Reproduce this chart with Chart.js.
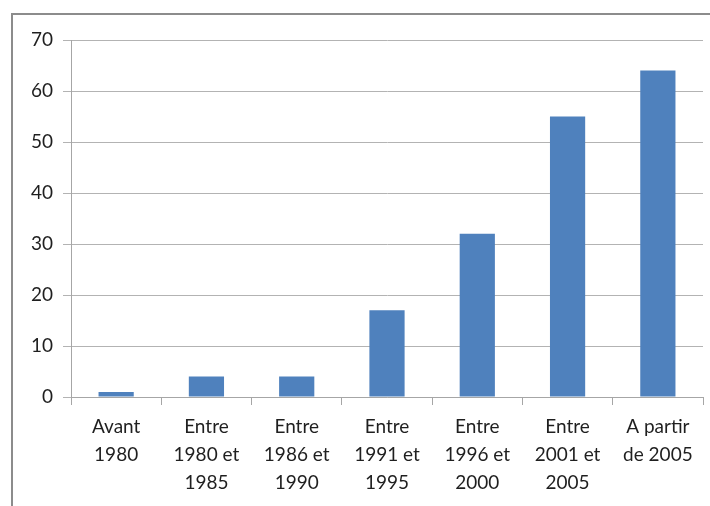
<!DOCTYPE html>
<html>
<head>
<meta charset="utf-8">
<script src="https://cdn.jsdelivr.net/npm/chart.js@4"></script>
<style>
  body { margin: 0; background: #fff; overflow: hidden; }
  #frame { position: absolute; left: 11px; top: 13px; width: 720px; height: 520px; border: 2px solid #8c8c8c; }
  #wrap { position: absolute; left: 0; top: 0; width: 710px; height: 506px; }
</style>
</head>
<body>
<div id="frame"></div>
<div id="wrap"><canvas id="myChart" width="710" height="506"></canvas></div>
<script>
// categories (multi-line labels)
var categories = [
    ['Avant', '1980'],
    ['Entre', '1980 et', '1985'],
    ['Entre', '1986 et', '1990'],
    ['Entre', '1991 et', '1995'],
    ['Entre', '1996 et', '2000'],
    ['Entre', '2001 et', '2005'],
    ['A partir', 'de 2005']
];
var valeurs = [1, 4, 4, 17, 32, 55, 64];
var yMin = 0, yMax = 70, yStep = 10;

var ctx = document.getElementById('myChart').getContext('2d');

var data = {
    labels: categories,
    datasets: [{
        data: valeurs,
        backgroundColor: '#4F81BD',
        borderWidth: 0,
        barPercentage: 0.39,
        categoryPercentage: 1
    }]
};

var options = {
    responsive: false,
    animation: false,
    layout: { padding: { left: 0, top: 40, right: 7, bottom: 0 } },
    plugins: { legend: { display: false }, tooltip: { enabled: false } },
    scales: {
        x: {
            grid: { drawOnChartArea: false, drawTicks: true, tickLength: 8, color: '#a6a6a6', offset: true },
            border: { color: '#a6a6a6', width: 1 },
            ticks: { color: '#1f1f1f', font: { family: 'Lato', size: 19, lineHeight: 1.47 }, padding: 8, maxRotation: 0, autoSkip: false },
            afterFit: function (scale) { scale.height = 109; }
        },
        y: {
            min: yMin,
            max: yMax,
            grid: { color: '#b3b3b3', tickLength: 8 },
            border: { color: '#a6a6a6' },
            ticks: { stepSize: yStep, color: '#1f1f1f', font: { family: 'Lato', size: 19 }, padding: 10 },
            afterFit: function (scale) { scale.width = 71; }
        }
    }
};

var myChart = new Chart(ctx, {
    type: 'bar',
    data: data,
    options: options
});
</script>
</body>
</html>
